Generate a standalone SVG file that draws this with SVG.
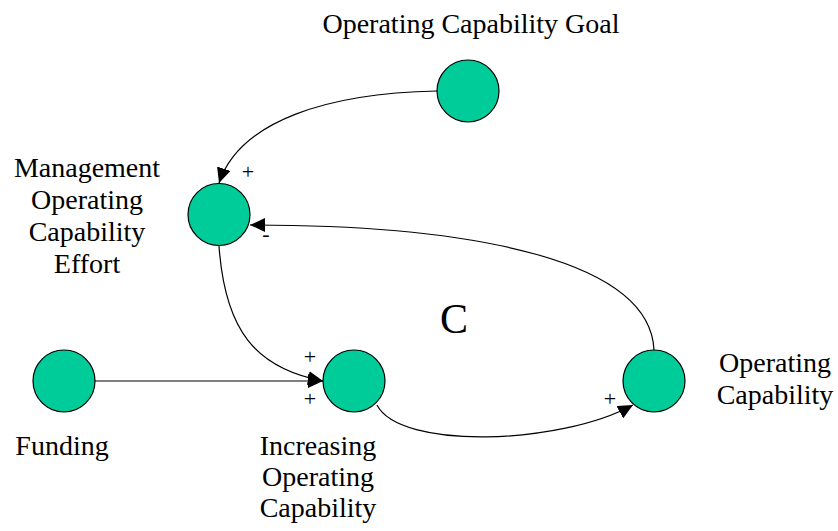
<svg xmlns="http://www.w3.org/2000/svg" width="838" height="531" viewBox="0 0 838 531">
<defs>
<style>
.node{fill:#00CC99;stroke:#000;stroke-width:1.2}
.lbl{font-family:"Liberation Serif","Times New Roman",serif;font-size:28px;fill:#000;text-anchor:middle}
.sign{font-family:"Liberation Serif","Times New Roman",serif;font-size:22px;fill:#000;text-anchor:middle}
.big{font-family:"Liberation Serif","Times New Roman",serif;font-size:42px;fill:#000;text-anchor:middle}
.edge{fill:none;stroke:#000;stroke-width:1.2;marker-end:url(#arrow)}
</style>
<marker id="arrow" markerUnits="userSpaceOnUse" markerWidth="16" markerHeight="14" refX="15" refY="7" orient="auto">
<path d="M0,0 L15,7 L0,14 Z" fill="#000"/>
</marker>
</defs>
<rect width="838" height="531" fill="#fff"/>
<g id="connectors">
<path class="edge" d="M437,91 C330,93 240,120 219,183"/>
<path class="edge" d="M654,350 C650,262 480,225 250,225"/>
<path class="edge" d="M219,246 C225,330 255,368 323,381"/>
<path class="edge" d="M95,381 L323,381"/>
<path class="edge" d="M377,405 C400,450 560,445 633,405"/>
</g>
<g id="node-goal">
<circle class="node" cx="468" cy="91" r="31"/>
<text class="lbl" x="471" y="33">Operating Capability Goal</text>
</g>
<g id="node-management">
<circle class="node" cx="219" cy="214.5" r="31"/>
<text class="lbl" x="87" y="177">Management</text>
<text class="lbl" x="87" y="209">Operating</text>
<text class="lbl" x="87" y="241">Capability</text>
<text class="lbl" x="87" y="273">Effort</text>
</g>
<g id="node-funding">
<circle class="node" cx="64" cy="381" r="31"/>
<text class="lbl" x="62" y="455">Funding</text>
</g>
<g id="node-increasing">
<circle class="node" cx="354" cy="381" r="31"/>
<text class="lbl" x="318" y="455">Increasing</text>
<text class="lbl" x="318" y="486">Operating</text>
<text class="lbl" x="318" y="517">Capability</text>
</g>
<g id="node-opcap">
<circle class="node" cx="654" cy="381" r="31"/>
<text class="lbl" x="775" y="372">Operating</text>
<text class="lbl" x="775" y="404">Capability</text>
</g>
<g id="signs">
<text class="sign" x="248" y="179">+</text>
<text class="sign" x="266" y="241">-</text>
<text class="sign" x="310" y="364">+</text>
<text class="sign" x="310" y="406">+</text>
<text class="sign" x="610" y="406">+</text>
<text class="big" x="454" y="333">C</text>
</g>
</svg>
